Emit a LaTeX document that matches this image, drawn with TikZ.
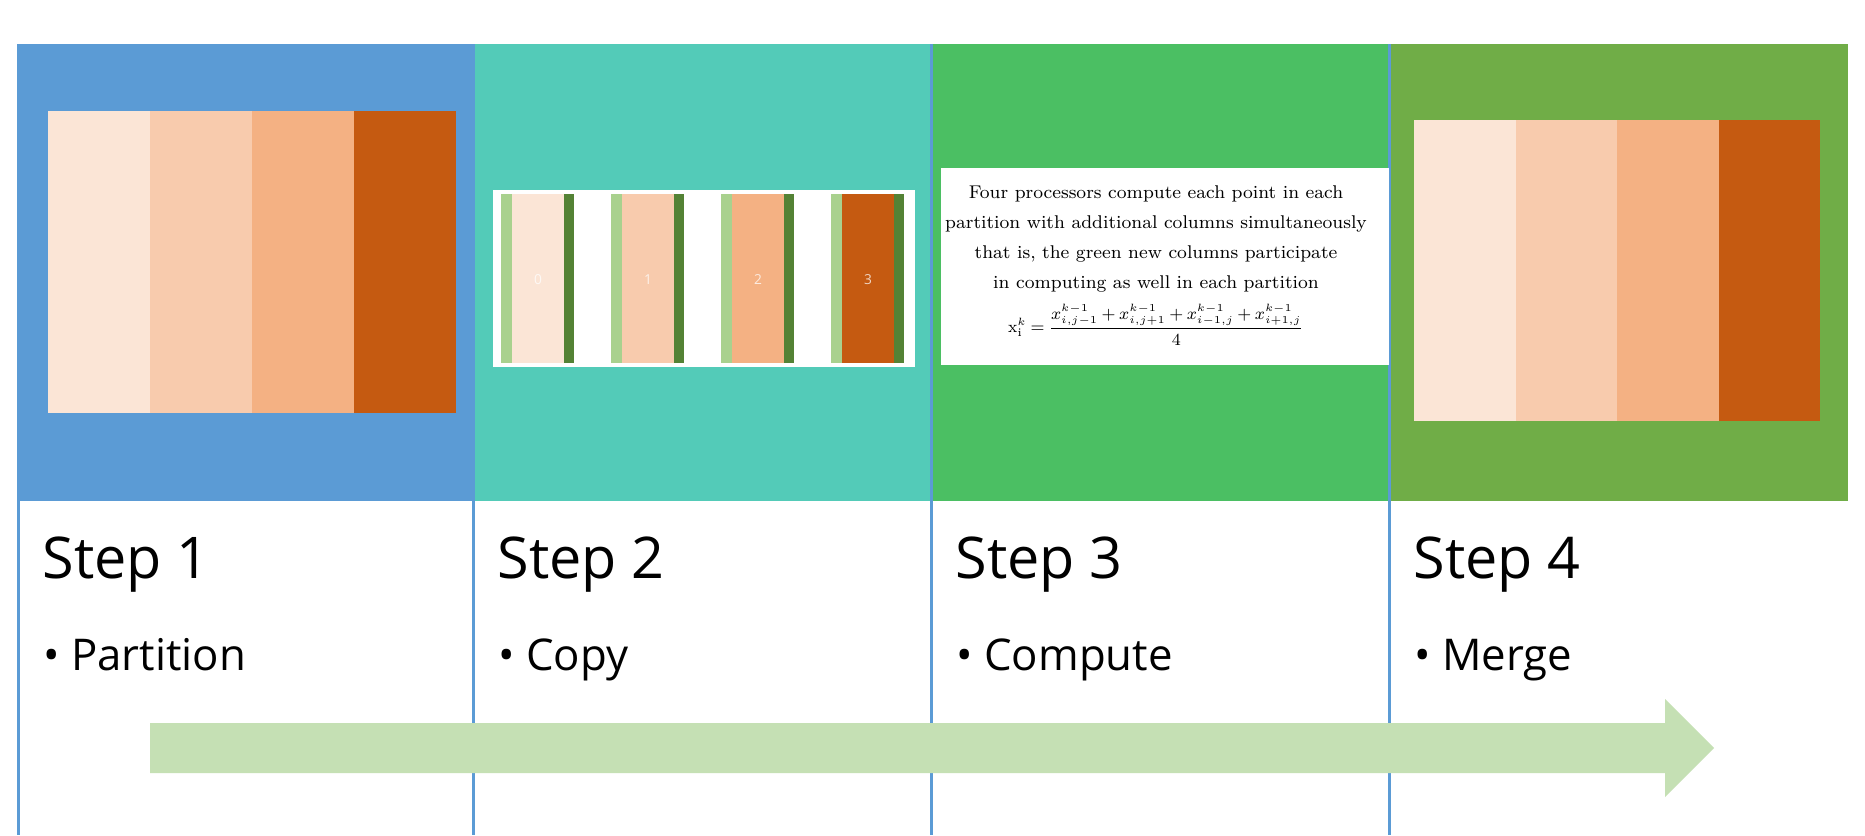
\documentclass[tikz,border=0pt]{standalone}
\usepackage{amsmath}
\usepackage{fontspec}
\setsansfont{Open Sans}
\usetikzlibrary{positioning}
\definecolor{PanelBlue}{HTML}{5B9BD5}
\definecolor{PanelTeal}{HTML}{53CBB8}
\definecolor{PanelGreen}{HTML}{4BBF63}
\definecolor{PanelOlive}{HTML}{70AD47}
\definecolor{Peach}{HTML}{FBE5D6}
\definecolor{Apricot}{HTML}{F8CBAD}
\definecolor{Salmon}{HTML}{F4B183}
\definecolor{Rust}{HTML}{C55A11}
\definecolor{LeafLight}{HTML}{A9D18E}
\definecolor{LeafDark}{HTML}{548235}
\definecolor{Flow}{HTML}{C5E0B4}

\begin{document}
\begin{tikzpicture}[x=0.4pt,y=-0.4pt,
  title/.style={anchor=base west,inner sep=0,font=\sffamily\fontsize{23}{27}\selectfont},
  item/.style={anchor=base west,inner sep=0,font=\sffamily\fontsize{17.5}{21}\selectfont},
  chip/.style={inner sep=0,text=white,text opacity=0.75,font=\sffamily\fontsize{5.5}{6}\selectfont},
  note/.style={inner sep=0,align=center,scale=0.94,transform shape,font=\rmfamily\fontsize{7.85}{12.75}\selectfont},
  rule/.style={draw=PanelBlue,line width=1.2pt}
]
\useasboundingbox[fill=white] (0,0) rectangle (1865,835);
\fill[PanelBlue] (18,44) rectangle (473,501);
\fill[PanelTeal] (473,44) rectangle (931,501);
\fill[PanelGreen] (931,44) rectangle (1389,501);
\fill[PanelOlive] (1389,44) rectangle (1848,501);
\foreach \x in {18,473,931,1389}
  \draw[rule] (\x,44) -- (\x,835);
\foreach \c [count=\i from 0] in {Peach,Apricot,Salmon,Rust}
  \fill[\c] ({48+102*\i},111) rectangle ++(102,302);
\fill[white] (493,190) rectangle (915,367);
\foreach \c [count=\i from 0] in {Peach,Apricot,Salmon,Rust}{
  \fill[LeafLight] ({501+110*\i},194) rectangle ++(11,169);
  \fill[\c] ({512+110*\i},194) rectangle ++(52,169);
  \fill[LeafDark] ({564+110*\i},194) rectangle ++(10,169);
  \node[chip] (chip\i) at ({538+110*\i},280) {\i};
}
\fill[white] (941,168) rectangle (1389,365);
\node[note,anchor=north] (rule3) at (1156,185) {Four processors compute each point in each\\
  partition with additional columns simultaneously\\
  that is, the green new columns participate\\
  in computing as well in each partition};
\node[note,scale=0.9,below=4.5pt of rule3] (jacobi) {$\medmuskip=3.5mu \thickmuskip=4mu \displaystyle \mathrm{x}_{\mathrm{i}}^{k}=\frac{x_{i,j-1}^{k-1}+x_{i,j+1}^{k-1}+x_{i-1,j}^{k-1}+x_{i+1,j}^{k-1}}{4}$};
\foreach \c [count=\i from 0] in {Peach,Apricot,Salmon,Rust}
  \fill[\c] ({1414+101.5*\i},120) rectangle ++(101.5,301);
\node[title] (step1) at (42,578) {Step 1};
\node[title] (step2) at (497,578) {Step 2};
\node[title] (step3) at (955,578) {Step 3};
\node[title] (step4) at (1413,578) {Step 4};
\node[item] (part) at (43,670) {\textbullet\ Partition};
\node[item] (copy) at (498,670) {\textbullet\ Copy};
\node[item] (comp) at (956,670) {\textbullet\ Compute};
\node[item] (merge) at (1414,670) {\textbullet\ Merge};
\fill[Flow] (150,723) -- (1665,723) -- (1665,699) -- (1714,748)
  -- (1665,797) -- (1665,773) -- (150,773) -- cycle;
\end{tikzpicture}
\end{document}
